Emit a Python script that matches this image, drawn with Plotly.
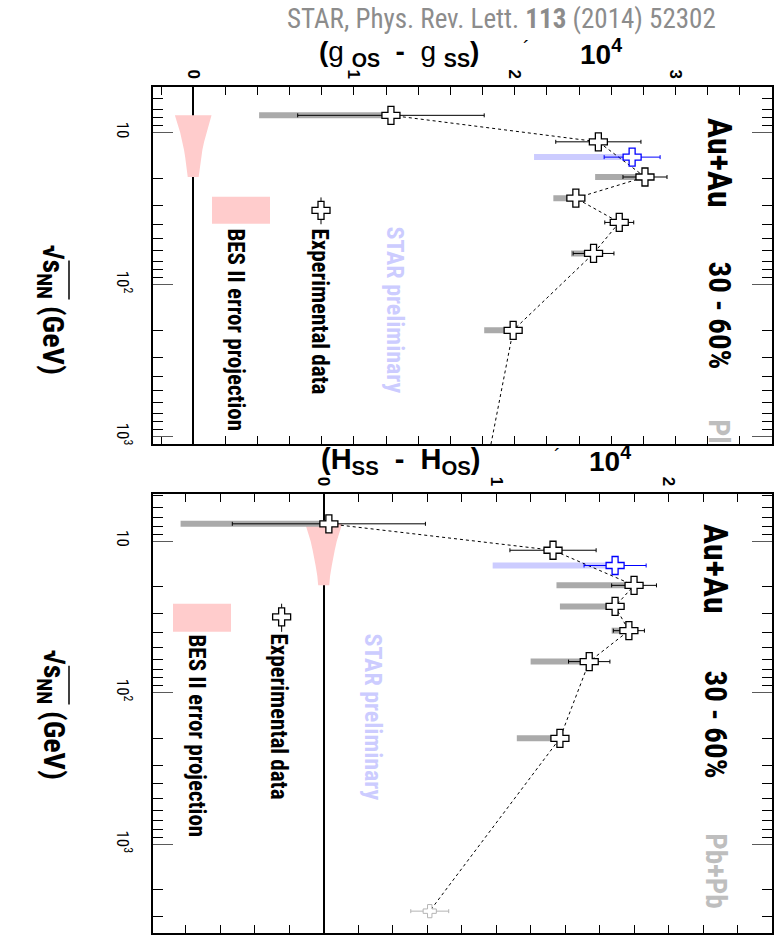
import plotly.graph_objects as go

# ---------------- data ----------------
energies = [7.7, 11.5, 14.5, 19.6, 27, 39, 62.4, 200]
is_prelim = [False, False, True, False, False, False, False, False]

g_val = [1.23, 2.52, 2.73, 2.81, 2.38, 2.65, 2.49, 1.99]
g_stat = [0.58, 0.265, 0.174, 0.137, 0.05, 0.09, 0.127, 0.03]
g_sys_lo = [0.41, None, 2.12, 2.50, 2.24, None, 2.35, 1.81]

h_val = [0.03, 1.33, 1.69, 1.80, 1.69, 1.77, 1.54, 1.37]
h_stat = [0.56, 0.25, 0.18, 0.13, 0.05, 0.09, 0.12, 0.04]
h_sys_lo = [-0.83, None, 0.98, 1.35, 1.37, 1.67, 1.20, 1.12]

pbpb_energy = 2760
g_pbpb = 1.78
h_pbpb = 0.615
h_pbpb_stat = 0.11

band_energy = [7.7, 10, 11.5, 13, 14.5, 17, 19.6]
g_band_hw = [0.114, 0.081, 0.068, 0.057, 0.050, 0.040, 0.034]
h_band_hw = [0.107, 0.076, 0.064, 0.053, 0.047, 0.037, 0.032]

major_energy_ticks = [10, 100, 1000]
major_energy_text = ["10", "10<sup>2</sup>", "10<sup>3</sup>"]
minor_energy_ticks = [5, 6, 7, 8, 9, 20, 30, 40, 50, 60, 70, 80, 90,
                      200, 300, 400, 500, 600, 700, 800, 900, 2000, 3000]

# ---------------- layout helpers ----------------
W, H = 779, 937
L, R, T, B = 153, 7, 87, 2
def px(x):
    return (x - L) / (W - L - R)
def py(y):
    return (H - B - y) / (H - T - B)

NARROW = "Liberation Sans Narrow, Arial Narrow, Roboto Condensed, DejaVu Sans Condensed, Liberation Sans"
ARIAL = "Liberation Sans, Arial"
GREY = "rgb(170,170,170)"
PINK = "rgb(255,204,204)"
LAV = "rgb(204,204,255)"
NB = "\u00a0"

fig = go.Figure()

def add_panel(xa, ya, vals, stats, sys_lo, band_hw, pb_val, pb_stat, show_pb):
    bx = list(band_hw) + [-v for v in band_hw[::-1]]
    by = list(band_energy) + list(band_energy[::-1])
    fig.add_trace(go.Scatter(x=bx, y=by, fill="toself", fillcolor=PINK, mode="lines",
                             line=dict(width=0), xaxis=xa, yaxis=ya, showlegend=False, hoverinfo="skip"))
    for prelim, col in [(False, GREY), (True, LAV)]:
        sx, sy = [], []
        for e, v, lo, p in zip(energies, vals, sys_lo, is_prelim):
            if p == prelim and lo is not None:
                sx += [lo, v, None]
                sy += [e, e, None]
        fig.add_trace(go.Scatter(x=sx, y=sy, mode="lines", line=dict(color=col, width=6),
                                 xaxis=xa, yaxis=ya, showlegend=False, hoverinfo="skip"))
    lx = [v for v, p in zip(vals, is_prelim) if not p] + [pb_val]
    ly = [e for e, p in zip(energies, is_prelim) if not p] + [pbpb_energy]
    fig.add_trace(go.Scatter(x=lx, y=ly, mode="lines", line=dict(color="black", width=1, dash="dot"),
                             xaxis=xa, yaxis=ya, showlegend=False, hoverinfo="skip"))
    for prelim, col in [(False, "black"), (True, "blue")]:
        dx = [v for v, p in zip(vals, is_prelim) if p == prelim]
        dy = [e for e, p in zip(energies, is_prelim) if p == prelim]
        de = [s for s, p in zip(stats, is_prelim) if p == prelim]
        fig.add_trace(go.Scatter(x=dx, y=dy, mode="markers",
                                 error_x=dict(type="data", array=de, color=col, thickness=1, width=2),
                                 marker=dict(symbol="cross", size=15, color="white",
                                             line=dict(color=col, width=1.3)),
                                 xaxis=xa, yaxis=ya, showlegend=False))
    if show_pb:
        fig.add_trace(go.Scatter(x=[pb_val], y=[pbpb_energy], mode="markers",
                                 error_x=dict(type="data", array=[pb_stat], color="rgb(180,180,180)", thickness=1, width=2),
                                 marker=dict(symbol="cross", size=11, color="white",
                                             line=dict(color="rgb(180,180,180)", width=1)),
                                 xaxis=xa, yaxis=ya, showlegend=False))

add_panel("x", "y", g_val, g_stat, g_sys_lo, g_band_hw, g_pbpb, 0.0, False)
add_panel("x2", "y2", h_val, h_stat, h_sys_lo, h_band_hw, h_pbpb, h_pbpb_stat, True)

# legend samples
for xa, ya, lx, ly, lo, hi in [("x", "y", 0.795, 32.5, 26.7, 40.1), ("x2", "y2", -0.244, 31.6, 25.9, 39.7)]:
    fig.add_trace(go.Scatter(x=[lx], y=[ly], mode="markers",
                             error_y=dict(type="data", symmetric=False, array=[hi - ly], arrayminus=[ly - lo],
                                          color="black", thickness=1, width=0),
                             marker=dict(symbol="cross", size=15, color="white", line=dict(color="black", width=1.3)),
                             xaxis=xa, yaxis=ya, showlegend=False))

shapes = []
for (x0, x1, y0, y1) in [(212, 270, 197, 224), (173, 231, 605, 633)]:
    shapes.append(dict(type="rect", xref="paper", yref="paper", x0=px(x0), x1=px(x1), y0=py(y1), y1=py(y0),
                       fillcolor=PINK, line=dict(width=0)))
# radical bars of the sqrt(s_NN) titles
for (xr, y0, y1) in [(69, 261, 300), (69, 667, 706)]:
    shapes.append(dict(type="line", xref="paper", yref="paper", x0=px(xr), x1=px(xr), y0=py(y0), y1=py(y1),
                       line=dict(color="black", width=1.5)))

annotations = []
def ann(text, x, y, size, color="black", bold=True, angle=90, family=NARROW):
    annotations.append(dict(text=(f"<b>{text}</b>" if bold else text), x=px(x), y=py(y), xref="paper", yref="paper",
                            showarrow=False, textangle=angle, xanchor="center", yanchor="middle",
                            font=dict(size=size, color=color, family=family)))

ann("STAR, Phys. Rev. Lett. <b>113</b> (2014) 52302", 501, 19, 27, color="rgb(140,140,140)", bold=False, angle=0)

# horizontal axis titles
S2 = NB + NB
ann(f"<b>(</b>g{NB}<b><sub>OS</sub></b>{S2}<b>-</b>{S2}g{NB}<b><sub>SS</sub></b><b>)</b>", 399, 53, 28,
    bold=False, angle=0, family=ARIAL)
ann("´", 526, 48, 20, bold=False, angle=0, family=ARIAL)
ann("10<sup>4</sup>", 601, 52, 28, angle=0, family=ARIAL)
ann(f"(H<sub>SS</sub>{S2}-{S2}H<sub>OS</sub>)", 401, 462, 29, angle=0, family=ARIAL)
ann("´", 557, 457, 20, bold=False, angle=0, family=ARIAL)
ann("10<sup>4</sup>", 610, 460, 28, angle=0, family=ARIAL)

yt = "√s<sub>NN</sub> (GeV)"
ann(yt, 52, 310, 30)
ann(yt, 52, 716, 30)

# top panel texts
ann("Experimental data", 320, 312, 23)
ann("BES II error projection", 236, 330, 23)
ann("STAR preliminary", 395, 310, 24, color=LAV)
ann("Au+Au", 720, 163, 34)
ann("30 - 60%", 720, 316, 31)
ann("Pl", 720, 432, 30, color="rgb(190,190,190)")
# bottom panel texts
ann("Experimental data", 278, 718, 23)
ann("BES II error projection", 197, 737, 23)
ann("STAR preliminary", 373, 718, 24, color=LAV)
ann("Au+Au", 716, 570, 34)
ann("30 - 60%", 716, 726, 31)
ann("Pb+Pb", 716, 872, 29, color="rgb(190,190,190)")

def xaxis_cfg(rng, anchor):
    return dict(range=rng, side="top", tick0=0, dtick=1, ticks="inside", ticklen=8, tickwidth=1,
                tickcolor="black", showline=True, linecolor="black", linewidth=2, mirror="allticks",
                minor=dict(tick0=0, dtick=0.2, ticks="inside", ticklen=8, tickwidth=1, tickcolor="black"),
                tickangle=90, tickfont=dict(size=17, family=ARIAL, color="black", weight="bold"),
                showgrid=False, zeroline=True, zerolinecolor="black", zerolinewidth=2,
                anchor=anchor, domain=[0, 1])

def yaxis_cfg(rng, dom, anchor):
    return dict(type="log", range=rng, domain=dom, anchor=anchor,
                tickvals=major_energy_ticks, ticktext=major_energy_text,
                ticks="inside", ticklen=20, tickwidth=1, tickcolor="rgb(90,90,90)",
                minor=dict(tickvals=minor_energy_ticks, ticks="inside", ticklen=10, tickcolor="black", tickwidth=1),
                showline=True, linecolor="black", linewidth=2, mirror="allticks",
                tickangle=90, tickfont=dict(size=17, family=NARROW, color="black"),
                ticklabelstandoff=14, showgrid=False, zeroline=False)

fig.update_layout(
    width=W, height=H, margin=dict(l=L, r=R, t=T, b=B),
    paper_bgcolor="white", plot_bgcolor="white", showlegend=False,
    xaxis=xaxis_cfg([-0.25, 3.6], "y"),
    yaxis=yaxis_cfg([3.05, 0.70], [py(445), 1.0], "x"),
    xaxis2=xaxis_cfg([-0.99, 2.6], "y2"),
    yaxis2=yaxis_cfg([3.585, 0.69], [0.0, py(495)], "x2"),
    shapes=shapes, annotations=annotations,
)

fig.write_html("out.html")
